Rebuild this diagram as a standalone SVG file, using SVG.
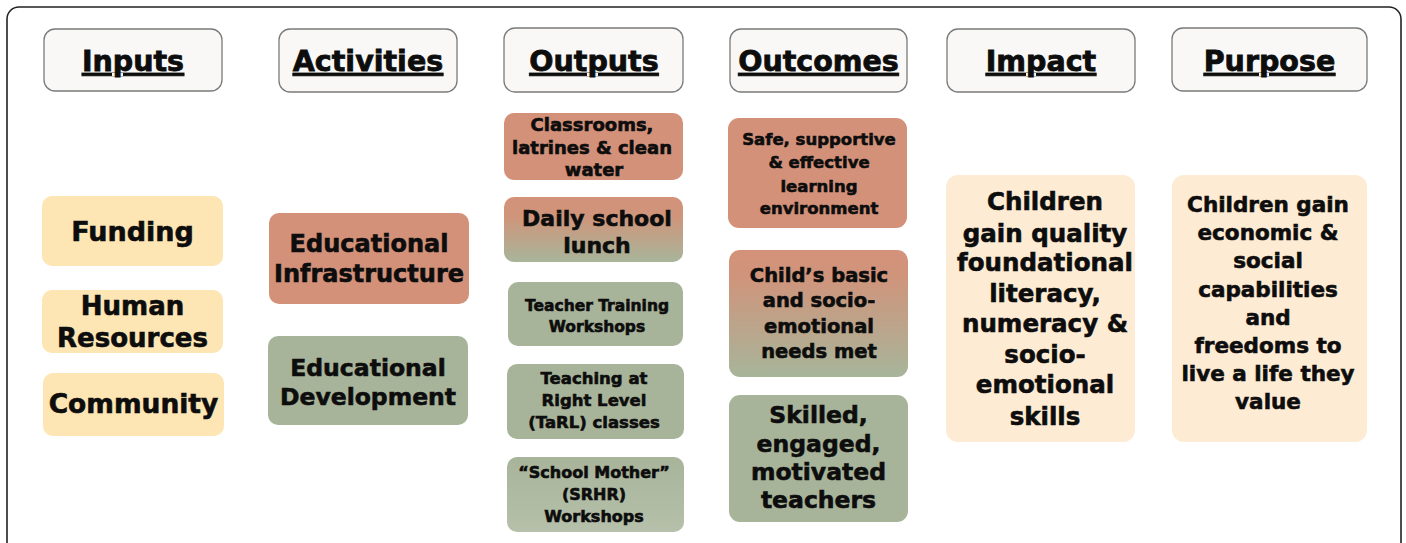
<svg xmlns="http://www.w3.org/2000/svg" width="1406" height="543" viewBox="0 0 1406 543">
<defs>
<linearGradient id="gLunch" x1="0" y1="0" x2="0" y2="1">
<stop offset="0" stop-color="#d3927a"/>
<stop offset="0.3" stop-color="#cf957b"/>
<stop offset="1" stop-color="#a7b59a"/>
</linearGradient>
<linearGradient id="gChild" x1="0" y1="0" x2="0" y2="1">
<stop offset="0" stop-color="#d3927a"/>
<stop offset="0.2" stop-color="#d0947b"/>
<stop offset="1" stop-color="#a7b59a"/>
</linearGradient>
<linearGradient id="gMother" x1="0" y1="0" x2="0" y2="1">
<stop offset="0" stop-color="#a8b49a"/>
<stop offset="1" stop-color="#b6c0aa"/>
</linearGradient>
<style>
.frame{fill:#fff;stroke:#222;stroke-width:1.6}
.hdr{fill:#f9f8f7;stroke:#7a7a7a;stroke-width:1.3}
.yel{fill:#fde5b4}
.peach{fill:#fdebd4}
.sal{fill:#d3917a}
.sage{fill:#a8b49a}
text{font-family:"DejaVu Sans","Liberation Sans",sans-serif;font-weight:bold;fill:#0d0d0d;stroke:#0d0d0d;stroke-width:0.6;text-anchor:middle}
.ht{font-size:28.5px;text-decoration:underline;stroke-width:0.8}
</style>
</defs>
<rect class="frame" x="7" y="7" width="1394" height="570" rx="12"/>

<g id="h-inputs"><rect class="hdr" x="44" y="29" width="178" height="62" rx="11"/><text class="ht" x="133" y="71">Inputs</text></g>
<g id="h-activities"><rect class="hdr" x="279" y="29" width="178" height="63" rx="11"/><text class="ht" x="368" y="71">Activities</text></g>
<g id="h-outputs"><rect class="hdr" x="504" y="28" width="179" height="64" rx="11"/><text class="ht" x="594" y="71">Outputs</text></g>
<g id="h-outcomes"><rect class="hdr" x="730" y="29" width="177" height="63" rx="11"/><text class="ht" x="818.5" y="71">Outcomes</text></g>
<g id="h-impact"><rect class="hdr" x="947" y="29" width="188" height="63" rx="11"/><text class="ht" x="1041" y="71">Impact</text></g>
<g id="h-purpose"><rect class="hdr" x="1172" y="28" width="195" height="63" rx="11"/><text class="ht" x="1269.5" y="71">Purpose</text></g>

<g id="n-funding"><rect class="yel" x="42" y="196" width="181" height="70" rx="10"/><text x="132.5" y="241" font-size="27">Funding</text></g>
<g id="n-human"><rect class="yel" x="42" y="290" width="181" height="63" rx="10"/><text x="132.5" y="315" font-size="26">Human</text><text x="132.5" y="347" font-size="26">Resources</text></g>
<g id="n-community"><rect class="yel" x="43" y="373" width="181" height="63" rx="10"/><text x="133.5" y="413" font-size="26.5">Community</text></g>

<g id="n-infra"><rect class="sal" x="269" y="213" width="200" height="91" rx="10"/><text x="369" y="252" font-size="24">Educational</text><text x="369" y="282" font-size="24">Infrastructure</text></g>
<g id="n-dev"><rect class="sage" x="268" y="336" width="200" height="89" rx="10"/><text x="368" y="376" font-size="23.5">Educational</text><text x="368" y="405" font-size="23.5">Development</text></g>

<g id="n-classrooms"><rect class="sal" x="504" y="113" width="179" height="67" rx="10"/><text x="592" y="131" font-size="18">Classrooms,</text><text x="592" y="154" font-size="18">latrines &amp; clean</text><text x="594" y="176" font-size="18">water</text></g>
<g id="n-lunch"><rect fill="url(#gLunch)" x="504" y="197" width="179" height="65" rx="10"/><text x="597" y="226" font-size="22">Daily school</text><text x="597" y="253" font-size="22">lunch</text></g>
<g id="n-teacher"><rect class="sage" x="508" y="282" width="175" height="64" rx="10"/><text x="597" y="311" font-size="15.5">Teacher Training</text><text x="597" y="332" font-size="15.5">Workshops</text></g>
<g id="n-tarl"><rect class="sage" x="507" y="364" width="177" height="75" rx="10"/><text x="594" y="384" font-size="16.5">Teaching at</text><text x="594" y="406" font-size="16.5">Right Level</text><text x="594" y="428" font-size="16.5">(TaRL) classes</text></g>
<g id="n-mother"><rect fill="url(#gMother)" x="507" y="457" width="177" height="75" rx="10"/><text x="594" y="478" font-size="16">“School Mother”</text><text x="594" y="500" font-size="16">(SRHR)</text><text x="594" y="522" font-size="16">Workshops</text></g>

<g id="n-safe"><rect class="sal" x="728" y="118" width="179" height="110" rx="11"/><text x="819" y="145" font-size="16.5">Safe, supportive</text><text x="819" y="168" font-size="16.5">&amp; effective</text><text x="819" y="192" font-size="16.5">learning</text><text x="819" y="214" font-size="16.5">environment</text></g>
<g id="n-child"><rect fill="url(#gChild)" x="729" y="250" width="179" height="127" rx="11"/><text x="819" y="282" font-size="19.5">Child’s basic</text><text x="819" y="307" font-size="19.5">and socio-</text><text x="819" y="333" font-size="19.5">emotional</text><text x="819" y="358" font-size="19.5">needs met</text></g>
<g id="n-skilled"><rect class="sage" x="729" y="395" width="179" height="127" rx="11"/><text x="818.5" y="423" font-size="23.5">Skilled,</text><text x="818.5" y="452" font-size="23.5">engaged,</text><text x="818.5" y="480" font-size="23.5">motivated</text><text x="818.5" y="508" font-size="23.5">teachers</text></g>

<g id="n-impact"><rect class="peach" x="946" y="175" width="189" height="267" rx="12"/><text x="1045" y="210" font-size="24.5">Children</text><text x="1045" y="242" font-size="24.5">gain quality</text><text x="1045" y="271" font-size="24.5">foundational</text><text x="1045" y="302" font-size="24.5">literacy,</text><text x="1045" y="332" font-size="24.5">numeracy &amp;</text><text x="1045" y="363" font-size="24.5">socio-</text><text x="1045" y="393" font-size="24.5">emotional</text><text x="1045" y="425" font-size="24.5">skills</text></g>
<g id="n-purpose"><rect class="peach" x="1172" y="175" width="195" height="267" rx="12"/><text x="1268" y="212" font-size="21.5">Children gain</text><text x="1268" y="240" font-size="21.5">economic &amp;</text><text x="1268" y="268" font-size="21.5">social</text><text x="1268" y="297" font-size="21.5">capabilities</text><text x="1268" y="325" font-size="21.5">and</text><text x="1268" y="353" font-size="21.5">freedoms to</text><text x="1268" y="381" font-size="21.5">live a life they</text><text x="1268" y="409" font-size="21.5">value</text></g>

<g id="connectors"></g>
</svg>
